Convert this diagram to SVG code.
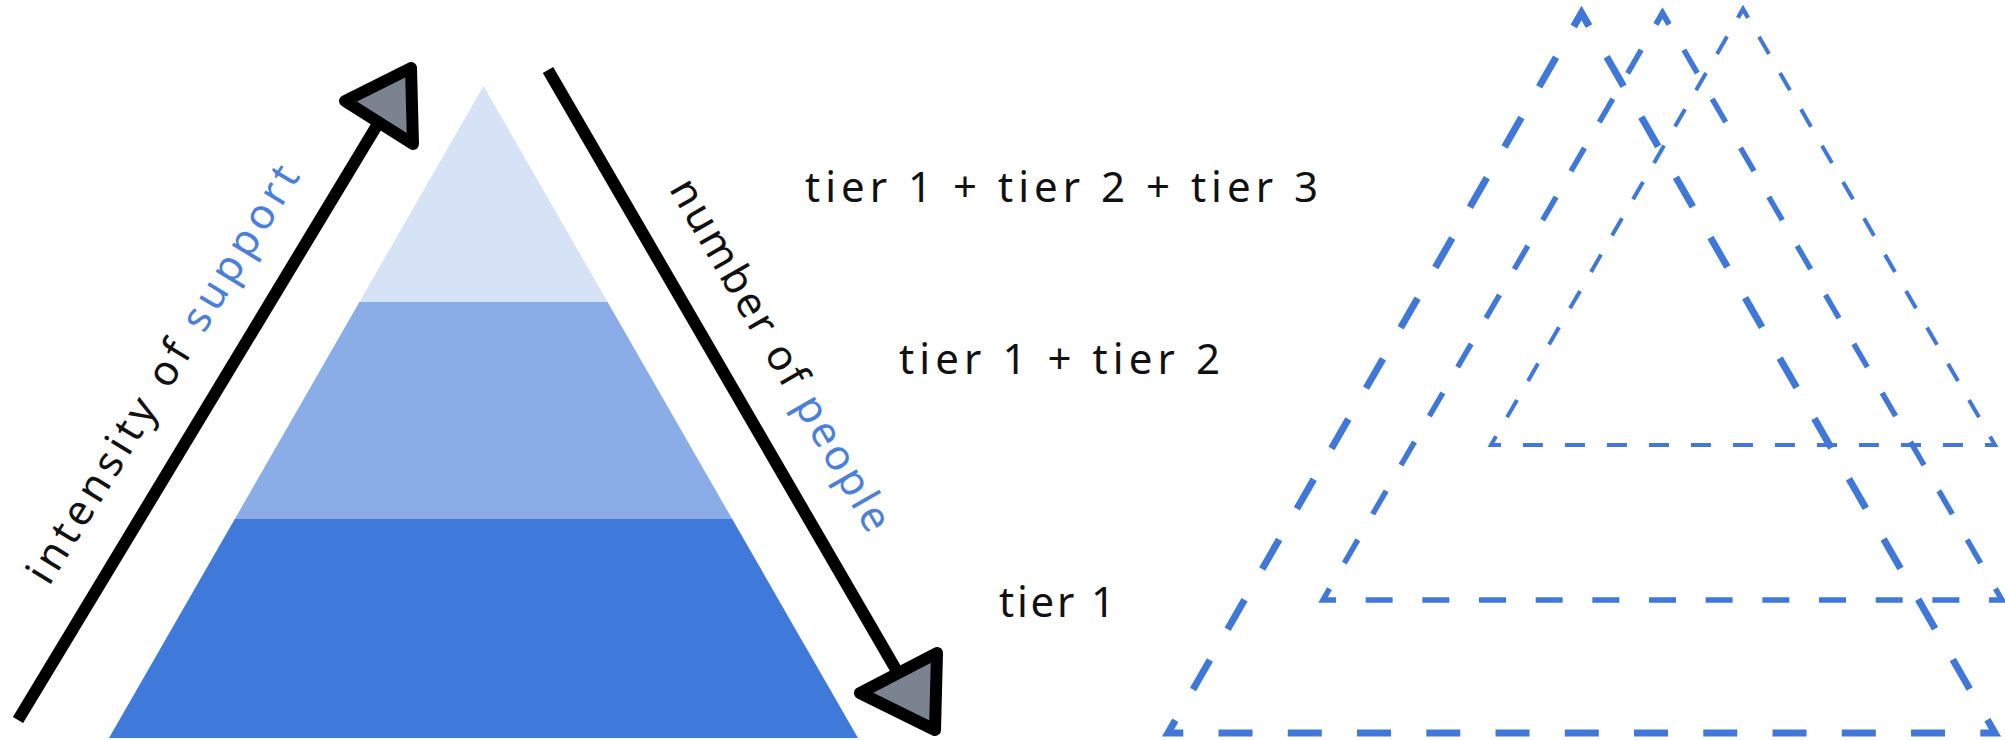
<svg xmlns="http://www.w3.org/2000/svg" width="2005" height="740" viewBox="0 0 2005 740">
<style>
.lbl{font-family:"Noto Sans","DejaVu Sans",sans-serif;font-size:42px;fill:#111111}
.blue{fill:#4a80d9}
.arrowline{stroke:#000;stroke-width:12;fill:none;stroke-linecap:butt}
.head{fill:#7b8391;stroke:#000;stroke-width:12;stroke-linejoin:round}
.dash{fill:none;stroke:#3f78d8;stroke-linejoin:miter;stroke-linecap:butt}
</style>
<rect width="2005" height="740" fill="#ffffff"/>
<g id="pyramid">
<polygon id="tier3" points="483.5,86 607.6,302 359.4,302" fill="#d6e3f6"/>
<polygon id="tier2" points="359.4,302 607.6,302 732.2,519 234.8,519" fill="#8badE7"/>
<polygon id="tier1" points="234.8,519 732.2,519 858,738 109,738" fill="#3f79d9"/>
</g>
<g id="connectors">
<g id="arrow-intensity">
<line class="arrowline" x1="18" y1="720" x2="379" y2="122"/>
<polygon class="head" points="345,101 411,68 413,144"/>
</g>
<g id="arrow-people">
<line class="arrowline" x1="548" y1="70" x2="898" y2="673"/>
<polygon class="head" points="860,693 937,653 935,730"/>
</g>
</g>
<g id="label-intensity" transform="translate(18,720) rotate(-59)">
<text class="lbl" transform="translate(130,-42) rotate(0.5)" textLength="482" lengthAdjust="spacing">intensity of <tspan class="blue">support</tspan></text>
</g>
<g id="label-people" transform="translate(548,70) rotate(60)">
<text class="lbl" transform="translate(163,-45)" textLength="400" lengthAdjust="spacing">number of <tspan class="blue">people</tspan></text>
</g>
<g id="tier-labels">
<text id="t123" class="lbl" x="805" y="202" textLength="513" lengthAdjust="spacing">tier 1 + tier 2 + tier 3</text>
<text id="t12" class="lbl" x="899" y="374" textLength="321" lengthAdjust="spacing">tier 1 + tier 2</text>
<text id="t1" class="lbl" x="999" y="617" textLength="116" lengthAdjust="spacing">tier 1</text>
</g>
<g id="dashed-triangles">
<g id="triangle-a">
<path class="dash" stroke-width="7" d="M1581.5,13 L1995,733 L1168,733 Z" stroke-dasharray="15 35.5 34 35.5 34 35.5 34 35.5 34 35.5 34 35.5 34 35.5 34 35.5 34 35.5 34 35.5 34 35.5 34 35.5 30 35.25 34 35.25 34 35.25 34 35.25 34 35.25 34 35.25 34 35.25 34 35.25 34 35.25 34 35.25 34 35.25 34 35.25 30 35.5 34 35.5 34 35.5 34 35.5 34 35.5 34 35.5 34 35.5 34 35.5 34 35.5 34 35.5 34 35.5 34 35.5 15 0"/>
<polyline class="dash" stroke-width="7" points="1574,26 1581.5,13 1589,26"/>
</g>
<g id="triangle-b">
<path class="dash" stroke-width="5.5" d="M1662.5,13 L2002,600 L1323,600 Z" stroke-dasharray="13 29.59 27 29.59 27 29.59 27 29.59 27 29.59 27 29.59 27 29.59 27 29.59 27 29.59 27 29.59 27 29.59 27 29.59 26 29.67 27 29.67 27 29.67 27 29.67 27 29.67 27 29.67 27 29.67 27 29.67 27 29.67 27 29.67 27 29.67 27 29.67 26 29.59 27 29.59 27 29.59 27 29.59 27 29.59 27 29.59 27 29.59 27 29.59 27 29.59 27 29.59 27 29.59 27 29.59 13 0"/>
<polyline class="dash" stroke-width="5.5" points="1656,24.2 1662.5,13 1669,24.2"/>
</g>
<g id="triangle-c">
<path class="dash" stroke-width="4" d="M1743,9 L1995,445 L1491,445 Z" stroke-dasharray="10 21.97 20 21.97 20 21.97 20 21.97 20 21.97 20 21.97 20 21.97 20 21.97 20 21.97 20 21.97 20 21.97 20 21.97 20 22 20 22 20 22 20 22 20 22 20 22 20 22 20 22 20 22 20 22 20 22 20 22 20 21.97 20 21.97 20 21.97 20 21.97 20 21.97 20 21.97 20 21.97 20 21.97 20 21.97 20 21.97 20 21.97 20 21.97 10 0"/>
<polyline class="dash" stroke-width="4" points="1738,17.7 1743,9 1748,17.7"/>
</g>
</g>
</svg>
